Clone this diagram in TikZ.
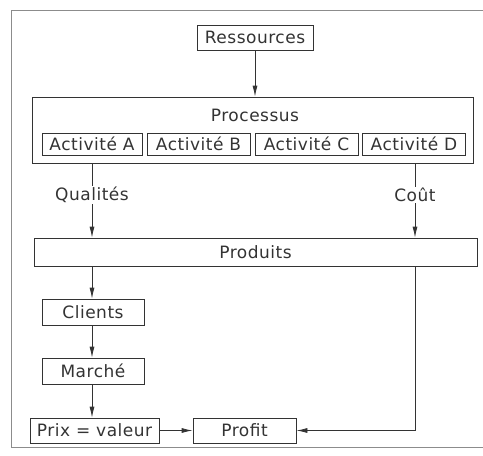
\documentclass[tikz,border=0pt]{standalone}
\usepackage{fontspec}
\setmainfont[LetterSpace=3]{DejaVu Sans}
\usetikzlibrary{calc,arrows.meta,positioning}

\begin{document}
\begin{tikzpicture}
  [>={Latex[length=11pt,width=5pt]}, x=1pt, y=-1pt, line width=0.8pt,
   color={black!80}, font=\fontsize{17}{19}\selectfont]

% page size
\useasboundingbox (0,0) rectangle (483,456);

% define styles
\tikzstyle{box} = [draw, rectangle, inner sep=0pt, minimum height=25];
\tikzstyle{lab} = [inner sep=1pt];
\tikzstyle{flow} = [->];

% frame of the page
\draw [black!45, line width=0.6pt] (483,10) -- (11,10) -- (11,447) -- (483,447);

% draw nodes
\node[box, minimum width=116] (res) at (255,37.5) {Ressources};

\node[box, minimum width=441, minimum height=66] (proc) at (252.5,130) {};
\node[lab] (proclab) at (255,115) {Processus};
\node[box, minimum width=100, minimum height=22] (actA) at (92,144) {Activité A};
\node[box, minimum width=103, minimum height=22] (actB) at (198.5,144) {Activité B};
\node[box, minimum width=103, minimum height=22] (actC) at (306.5,144) {Activité C};
\node[box, minimum width=103, minimum height=22] (actD) at (414,144) {Activité D};

\node[lab] (qual) at (92,195) {Qualités};
\node[lab] (cout) at (415,195) {Coût};

\node[box, minimum width=443, minimum height=28] (prod) at (255.5,252) {Produits};

\node[box, minimum width=102, minimum height=26] (cli) at (93,312) {Clients};
\node[box, minimum width=102, minimum height=26] (mar) at (93,371) {Marché};
\node[box, minimum width=129] (prix) at (94.5,430.5) {Prix = valeur};
\node[box, minimum width=103] (prof) at (244.5,430.5) {Profit};

% draw edges
\draw [flow] (res.south) -- (res.south |- proc.north);

% qualities and cost
\draw (proc.south -| qual) -- (qual);
\draw [flow] (qual) -- (prod.north -| qual);
\draw (proc.south -| cout) -- (cout);
\draw [flow] (cout) -- (prod.north -| cout);

% left column
\draw [flow] (prod.south -| qual) -- (cli.north -| qual);
\draw [flow] (cli.south -| qual) -- (mar.north -| qual);
\draw [flow] (mar.south -| qual) -- (prix.north -| qual);
\draw [flow] (prix) -- (prof);

% cost to profit
\draw [flow] (prod.south -| cout) |- (prof);

\end{tikzpicture}
\end{document}
